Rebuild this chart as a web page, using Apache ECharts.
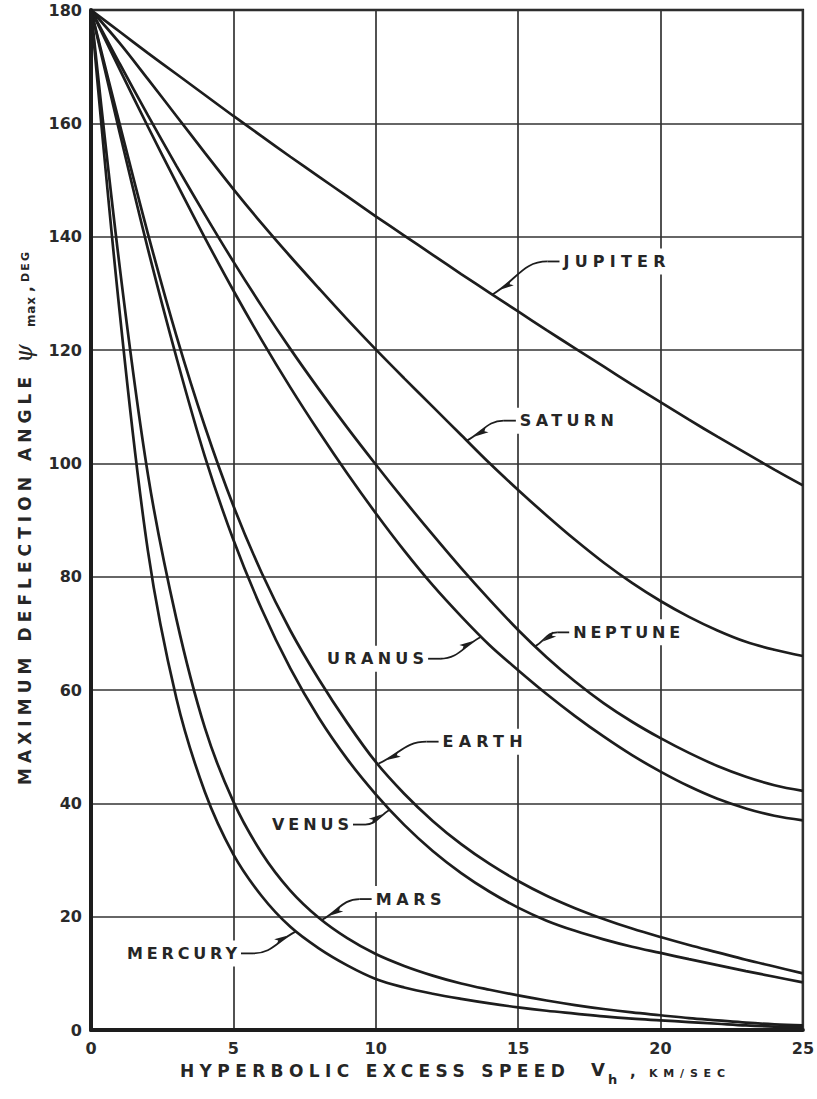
<!DOCTYPE html>
<html>
<head>
<meta charset="utf-8">
<script src="https://cdn.jsdelivr.net/npm/echarts@6/dist/echarts.min.js"></script>
<style>
  html, body { margin: 0; padding: 0; background: #ffffff; }
  #chart { width: 817px; height: 1099px; }
</style>
</head>
<body>
<div id="chart"></div>
<script>
// Hyperbolic excess speed, km/sec (shared sample points for every curve)
const speeds = [0, 1, 2, 3, 4, 5, 6, 7, 8, 9, 10, 11, 12, 13, 14, 15, 16, 17, 18, 19, 20, 21, 22, 23, 24, 25];

// Maximum deflection angle, deg, for each planet
const jupiter = [180, 176.2, 172.4, 168.7, 165.0, 161.3, 157.7, 154.1, 150.6, 147.1, 143.6, 140.2, 136.8, 133.4, 130.1, 126.8, 123.5, 120.3, 117.1, 113.9, 110.8, 107.7, 104.7, 101.8, 98.9, 96.1];
const saturn  = [180, 174.2, 167.8, 161.3, 154.8, 148.4, 142.3, 136.5, 130.9, 125.4, 120.1, 115.0, 110.0, 105.0, 100.0, 95.3, 90.8, 86.5, 82.5, 78.9, 75.7, 72.9, 70.5, 68.5, 67.1, 66.0];
const neptune = [180, 170.6, 161.4, 152.5, 143.9, 135.6, 127.7, 120.2, 113.1, 106.3, 99.8, 93.5, 87.4, 81.5, 75.9, 70.6, 65.8, 61.5, 57.7, 54.4, 51.5, 48.9, 46.6, 44.7, 43.2, 42.2];
const uranus  = [180, 169.6, 159.4, 149.5, 139.8, 130.5, 121.7, 113.4, 105.6, 98.2, 91.2, 84.6, 78.5, 73.0, 67.9, 63.5, 59.3, 55.4, 51.8, 48.5, 45.6, 43.0, 40.8, 39.1, 37.8, 37.0];
const earth   = [180, 160, 140.5, 122.5, 106.5, 92.5, 80.6, 70.5, 61.9, 54.2, 47.3, 41.7, 36.9, 32.8, 29.3, 26.3, 23.7, 21.5, 19.6, 17.9, 16.4, 15.0, 13.7, 12.4, 11.2, 10.0];
const venus   = [180, 158.5, 137.8, 118.7, 101.2, 86.5, 74.2, 63.8, 55.1, 47.8, 41.6, 36.2, 31.6, 27.7, 24.4, 21.6, 19.3, 17.5, 16.0, 14.7, 13.6, 12.5, 11.45, 10.4, 9.4, 8.4];
const mars    = [180, 135, 98, 72.5, 53.3, 40.3, 31.2, 24.6, 19.8, 16.2, 13.4, 11.3, 9.6, 8.2, 7.1, 6.1, 5.2, 4.4, 3.7, 3.1, 2.6, 2.1, 1.7, 1.3, 1.0, 0.8];
const mercury = [180, 127, 84.5, 58.5, 42, 31, 23.6, 18.2, 14.4, 11.4, 9.0, 7.5, 6.4, 5.5, 4.7, 4.0, 3.4, 2.9, 2.4, 2.0, 1.7, 1.4, 1.1, 0.8, 0.6, 0.5];

const planetNames = ['JUPITER', 'SATURN', 'NEPTUNE', 'URANUS', 'EARTH', 'VENUS', 'MARS', 'MERCURY'];
const planetValues = [jupiter, saturn, neptune, uranus, earth, venus, mars, mercury];

// Point on each curve where the label's leader arrow touches it: [speed, angle]
const leaderTips = [[14.1, 129.8], [13.2, 104.0], [15.6, 67.7], [13.7, 69.4], [10.1, 47.0], [10.5, 38.9], [8.1, 19.4], [7.2, 17.4]];

// Axis titles
const xTitle = 'HYPERBOLIC EXCESS SPEED';
const yTitle = 'MAXIMUM DEFLECTION ANGLE';

// ---- styling / placement of the annotations (pixel offsets from the leader tip) ----
const labelLayout = {
  JUPITER: { dx: 71,   dy: -33, w: 102 },
  SATURN:  { dx: 53,   dy: -20, w: 94 },
  NEPTUNE: { dx: 38,   dy: -14, w: 107 },
  URANUS:  { dx: -154, dy: 22,  w: 97 },
  EARTH:   { dx: 64,   dy: -22, w: 80 },
  VENUS:   { dx: -118, dy: 15,  w: 77 },
  MARS:    { dx: 54,   dy: -21, w: 66 },
  MERCURY: { dx: -169, dy: 22,  w: 110 }
};

const INK = '#1d1d1d';
const FONT = '"DejaVu Sans", "Liberation Sans", sans-serif';
const LABEL_FONT = 'bold 16px ' + FONT;

// Target drawn widths for letter-spaced lettering
const spacedWidths = {
  'HYPERBOLIC EXCESS SPEED': 385,
  'MAXIMUM DEFLECTION ANGLE': 408,
  'KM/SEC': 76,
  'DEG': 30,
  'max': 30
};
planetNames.forEach(n => { spacedWidths[n] = labelLayout[n].w; });

const dom = document.getElementById('chart');
const chart = echarts.init(dom, null, { renderer: 'svg', width: 817, height: 1099 });

const series = planetNames.map((name, k) => ({
  type: 'line',
  name: name,
  data: speeds.map((s, i) => [s, planetValues[k][i]]),
  showSymbol: false,
  smooth: 0.35,
  silent: true,
  z: 3,
  lineStyle: { color: INK, width: 2.7 }
}));

const axisLabelStyle = { fontFamily: FONT, fontWeight: 'bold', fontSize: 16, color: '#2a2a2a' };

chart.setOption({
  animation: false,
  backgroundColor: '#ffffff',
  grid: { left: 91, right: 12, top: 10, bottom: 69, show: true, borderColor: INK, borderWidth: 2.5, backgroundColor: 'transparent' },
  xAxis: {
    type: 'value', min: 0, max: 25, interval: 5,
    axisLine: { show: true, onZero: false, lineStyle: { color: INK, width: 4 } },
    axisTick: { show: false },
    splitLine: { show: true, lineStyle: { color: '#333333', width: 1.7 } },
    axisLabel: Object.assign({ margin: 10 }, axisLabelStyle)
  },
  yAxis: {
    type: 'value', min: 0, max: 180, interval: 20,
    axisLine: { show: true, onZero: false, lineStyle: { color: INK, width: 4 } },
    axisTick: { show: false },
    splitLine: { show: true, lineStyle: { color: '#333333', width: 1.7 } },
    axisLabel: Object.assign({ margin: 9 }, axisLabelStyle)
  },
  series: series
});

// ---- planet labels with leader arrows, anchored on the curves through the axis scales ----
const graphics = [];
planetNames.forEach((name, k) => {
  const tip = chart.convertToPixel({ gridIndex: 0 }, leaderTips[k]);
  const L = labelLayout[name];
  const tx = tip[0], ty = tip[1];
  const left = tx + L.dx, cy = ty + L.dy;
  const onRight = L.dx > 0;
  // white patch that interrupts the grid behind the lettering
  graphics.push({
    type: 'rect', z: 1, silent: true,
    shape: { x: left - 5, y: cy - 13, width: L.w + 10, height: 26 },
    style: { fill: '#ffffff' }
  });
  graphics.push({
    type: 'text', z: 10, silent: true,
    style: { text: name, x: left, y: cy, font: LABEL_FONT, fill: '#262626', textAlign: 'left', textVerticalAlign: 'middle' }
  });
  // leader: short horizontal run from the lettering, then a curve down to the tip
  const sx = onRight ? left - 4 : left + L.w + 4;
  const dir = onRight ? -1 : 1;
  const hx = sx + dir * 12;
  const cp1 = [hx + (tx - hx) * 0.45, cy];
  const cp2 = [tx + (hx - tx) * 0.45, ty + (cy - ty) * 0.45];
  graphics.push({
    type: 'line', z: 9, silent: true,
    shape: { x1: sx, y1: cy, x2: hx, y2: cy },
    style: { stroke: INK, lineWidth: 1.8 }
  });
  graphics.push({
    type: 'bezierCurve', z: 9, silent: true,
    shape: { x1: hx, y1: cy, x2: tx, y2: ty, cpx1: cp1[0], cpy1: cp1[1], cpx2: cp2[0], cpy2: cp2[1] },
    style: { stroke: INK, lineWidth: 1.8, fill: null }
  });
  // arrowhead part-way along the straight end of the leader, pointing at the curve
  const ux0 = cp2[0] - tx, uy0 = cp2[1] - ty;
  const len = Math.hypot(ux0, uy0) || 1;
  const ux = ux0 / len, uy = uy0 / len;
  const nx = -uy, ny = ux;
  const ax = tx + ux * 9, ay = ty + uy * 9;
  const bx = tx + ux * 23, by = ty + uy * 23;
  graphics.push({
    type: 'polygon', z: 9, silent: true,
    shape: { points: [[ax, ay], [bx + nx * 3, by + ny * 3], [tx + ux * 20, ty + uy * 20], [bx - nx * 3, by - ny * 3]] },
    style: { fill: INK }
  });
});

// ---- axis titles ----
graphics.push({
  type: 'text', silent: true,
  style: { text: xTitle, x: 180, y: 1071, font: 'bold 17px ' + FONT, fill: '#262626', textAlign: 'left', textVerticalAlign: 'middle' }
});
graphics.push({
  type: 'text', silent: true,
  style: { text: 'V', x: 591, y: 1069, font: 'bold 18px ' + FONT, fill: '#262626', textAlign: 'left', textVerticalAlign: 'middle' }
});
graphics.push({
  type: 'text', silent: true,
  style: { text: 'h', x: 608, y: 1079, font: 'bold 13px ' + FONT, fill: '#262626', textAlign: 'left', textVerticalAlign: 'middle' }
});
graphics.push({
  type: 'text', silent: true,
  style: { text: ',', x: 630, y: 1072, font: 'bold 15px ' + FONT, fill: '#262626', textAlign: 'left', textVerticalAlign: 'middle' }
});
graphics.push({
  type: 'text', silent: true,
  style: { text: 'KM/SEC', x: 649, y: 1073, font: 'bold 11px ' + FONT, fill: '#262626', textAlign: 'left', textVerticalAlign: 'middle' }
});

graphics.push({
  type: 'text', silent: true, x: 25, y: 785, rotation: Math.PI / 2,
  style: { text: yTitle, x: 0, y: 0, font: 'bold 17px ' + FONT, fill: '#262626', textAlign: 'left', textVerticalAlign: 'middle' }
});
graphics.push({
  type: 'text', silent: true, x: 24, y: 363, rotation: Math.PI / 2,
  style: { text: 'ψ', x: 0, y: 0, font: 'italic 24px "DejaVu Serif", serif', fill: '#262626', textAlign: 'left', textVerticalAlign: 'middle' }
});
graphics.push({
  type: 'text', silent: true, x: 31, y: 327, rotation: Math.PI / 2,
  style: { text: 'max', x: 0, y: 0, font: 'bold 12px ' + FONT, fill: '#262626', textAlign: 'left', textVerticalAlign: 'middle' }
});
graphics.push({
  type: 'text', silent: true, x: 28, y: 292, rotation: Math.PI / 2,
  style: { text: ',', x: 0, y: 0, font: 'bold 15px ' + FONT, fill: '#262626', textAlign: 'left', textVerticalAlign: 'middle' }
});
graphics.push({
  type: 'text', silent: true, x: 25, y: 282, rotation: Math.PI / 2,
  style: { text: 'DEG', x: 0, y: 0, font: 'bold 11px ' + FONT, fill: '#262626', textAlign: 'left', textVerticalAlign: 'middle' }
});

chart.setOption({ graphic: { elements: graphics } });

// Widen the stencil-style lettering to its drafted length
function spaceLetters() {
  const svg = dom.querySelector('svg');
  if (!svg) return;
  svg.querySelectorAll('text').forEach(t => {
    const s = t.textContent;
    if (!(s in spacedWidths) || t.getAttribute('data-spaced')) return;
    const natural = t.getComputedTextLength();
    const n = s.length;
    if (n < 2) return;
    const sp = (spacedWidths[s] - natural) / (n - 1);
    t.setAttribute('letter-spacing', sp.toFixed(2));
    t.setAttribute('data-spaced', '1');
  });
}
chart.on('finished', spaceLetters);
chart.getZr().flush();
spaceLetters();
</script>
</body>
</html>
